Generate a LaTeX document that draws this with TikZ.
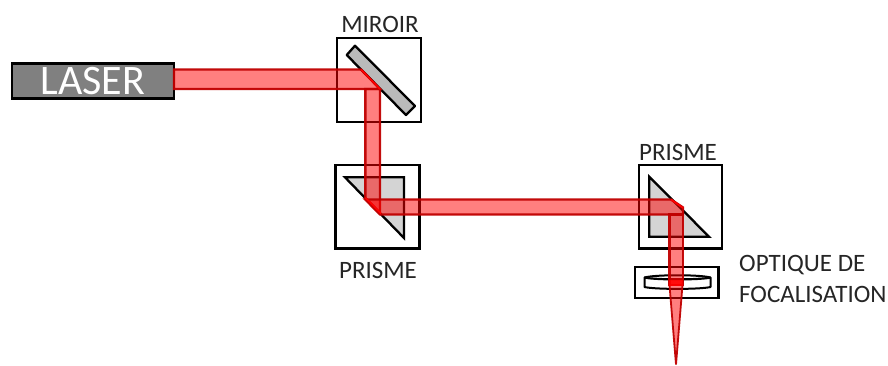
\documentclass[tikz,border=0pt]{standalone}
\usepackage{fontspec}
\setmainfont{Carlito}
\definecolor{beamred}{RGB}{255,0,0}
\definecolor{beamline}{RGB}{192,0,0}
\tikzset{
  housing/.style={draw=black,line width=2.3pt,fill=none},
  prismbody/.style={draw=black,line width=2.3pt,fill=black!17,line join=miter},
  mirrorbody/.style={draw=black,line width=2.3pt,fill=black!27,line join=round},
  beam/.style={draw=beamline,line width=2.4pt,fill=beamred,fill opacity=.5,draw opacity=.95,line join=miter},
  hotspot/.style={draw=beamred,line width=1.6pt},
  lab/.style={text=black!85,font=\fontsize{25}{27}\selectfont,inner sep=0pt},
}
\begin{document}
\begin{tikzpicture}[x=1pt,y=-1pt]
\useasboundingbox (0,0) rectangle (888,365);
\fill[white] (0,0) rectangle (888,365);
% laser
\node[draw=black,line width=2.3pt,fill=black!50,minimum width=162pt,minimum height=35pt,inner sep=0pt,
  text=white,font=\fontsize{42}{44}\selectfont] (laser) at (93,81) {LASER};
% housings
\draw[housing] (337,38) rectangle (421,122);
\draw[housing] (335.5,165) rectangle (419.5,248.5);
\draw[housing] (639,165) rectangle (722,248.5);
\draw[housing] (635,267) rectangle (718.5,298);
% optics
\draw[mirrorbody] (346.7,55) -- (355,45.7) -- (415,106) -- (406,115) -- cycle;
\draw[prismbody] (345,177.3) -- (404,177.3) -- (404,238) -- cycle;
\draw[prismbody] (649.3,176.7) -- (649.3,236.7) -- (709,236.7) -- cycle;
\draw[black,line width=2pt,line join=round] (644.5,277.5) .. controls (655,274.5) and (700,274.5) .. (710.5,277.5) -- (710.5,287) .. controls (700,289.5) and (655,289.5) .. (644.5,287) -- cycle;
\draw[black,line width=2.2pt] (644.5,277.5) .. controls (655,280) and (700,280) .. (710.5,277.5);
% beams
\draw[beam] (174,69.5) -- (361,69.5) -- (380,89) -- (365.3,89) -- (174,89) -- cycle;
\draw[beam] (365.3,89) -- (380,89) -- (380,213) -- (365.3,198) -- cycle;
\draw[beam] (365.3,199.5) -- (671,199.5) -- (683,207.5) -- (683,214.5) -- (380,214.5) -- cycle;
\draw[beam] (669.5,214.5) -- (683,214.5) -- (683,285) -- (669.5,285) -- cycle;
\draw[beam,line width=1.8pt] (669,279) -- (683,279) -- (676,364.5) -- cycle;
\fill[beamred,opacity=.8] (669,280) rectangle (683,285.5);
\draw[hotspot] (365.3,197.5) -- (381,213.5);
\draw[hotspot] (671,199.5) -- (683,208);
\draw[hotspot] (361,69.5) -- (380,89);
% labels
\node[lab] (miroirlab) at (380,24) {MIROIR};
\node[lab] (prismeA) at (378,270) {PRISME};
\node[lab] (prismeB) at (678,152) {PRISME};
\node[lab,anchor=west] (optA) at (739,265) {OPTIQUE DE};
\node[lab,anchor=west] (optB) at (739,294) {FOCALISATION};
\end{tikzpicture}
\end{document}
